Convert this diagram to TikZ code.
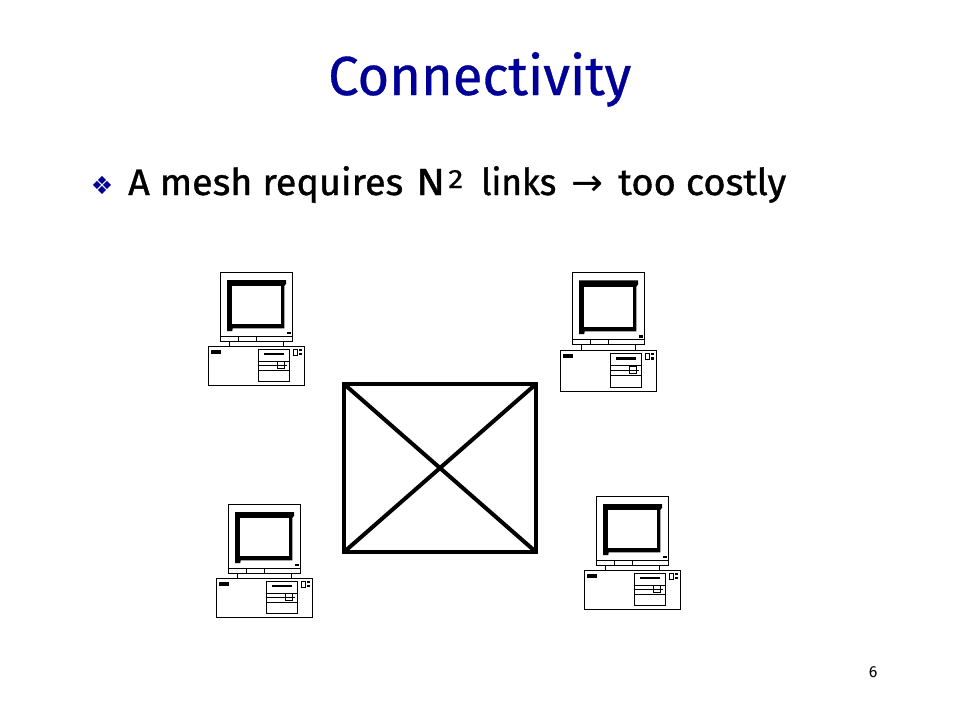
\documentclass[tikz,border=0pt]{standalone}
\usepackage{graphicx}
\usepackage{fontspec}
\setmainfont{Fira Sans}[Numbers=Lining]
\newfontfamily\dejavu{DejaVu Sans}
\newfontfamily\heavy[FakeBold=0.6,Numbers=Lining]{Fira Sans}
\newfontfamily\bodyheavy[FakeBold=1,Numbers=Lining]{Fira Sans}
\definecolor{titleblue}{RGB}{0,0,153}
\newcommand{\fitw}[2]{\resizebox{#1pt}{\height}{#2}}
\tikzset{
  x=1pt,y=-1pt,
  thinline/.style={draw=black,line width=1pt},
  link/.style={draw=black,line width=4pt},
  titletext/.style={text=titleblue,font=\heavy\fontsize{55}{60}\selectfont,inner sep=0pt,anchor=base west},
  bodytext/.style={text=black,font=\bodyheavy\fontsize{37}{42}\selectfont,inner sep=0pt,anchor=base west},
  pics/computer/.style={code={
    \draw[thinline,fill=white] (0,0) rectangle (72,64);
    \fill[black] (6.3,7.7) -- (65.3,7.7) -- (65.3,11.5) -- (63.6,13.7) -- (63.6,56) -- (12,56) -- (11.5,58.7) -- (6.3,58.7) -- cycle;
    \fill[white] (11.3,13.7) rectangle (60.5,51.7);
    \fill[black] (66,59.5) rectangle (70,62);
    \draw[thinline] (0,64) rectangle (72,69);
    \draw[thinline] (18,64) -- (18,69) (36,64) -- (36,69);
    \draw[thinline,fill=white] (9,69) rectangle (63,74);
    \draw[thinline,fill=white] (-12,74) rectangle (84,113);
    \fill[black] (-9.3,77.3) rectangle (0.7,81.3);
    \draw[thinline] (38,77) rectangle (69,109);
    \fill[black] (43,80.7) rectangle (63.7,83);
    \draw[thinline] (38,88.7) -- (69,88.7) (38,98) -- (69,98) (38,93) -- (66,93);
    \draw[thinline] (56.3,89) rectangle (64,96.3);
    \draw[line width=0.7pt] (72.3,77.3) rectangle (76.7,83);
    \fill[black] (78,77) rectangle (81.3,79);
    \fill[black] (78,80.3) rectangle (81.3,83);
  }}
}
\begin{document}
\begin{tikzpicture}
\useasboundingbox (0,0) rectangle (960,720);
\fill[white] (0,0) rectangle (960,720);
\node[titletext] (title) at (328,95) {\fitw{303}{Connectivity}};
\node[inner sep=0pt,font=\dejavu\fontsize{25}{25}\selectfont,text=titleblue] (bullet) at (102,185) {❖};
\node[bodytext] (body1) at (128,195) {\fitw{275}{A mesh requires}};
\node[bodytext] (body2) at (416,195) {\resizebox{29pt}{26pt}{N}};
\node[bodytext,font=\heavy\fontsize{26}{26}\selectfont] (body3) at (448,188) {\resizebox{15pt}{18pt}{2}};
\node[bodytext] (body4) at (481,195) {\fitw{75}{links}};
\node[bodytext,font=\dejavu\fontsize{37}{37}\selectfont] (arrow) at (571,195) {\fitw{32}{→}};
\node[bodytext] (body5) at (618,195) {\fitw{168}{too costly}};
\pic at (220.7,272.3) {computer};
\pic[yscale=1.053] at (572.7,272.3) {computer};
\pic at (228.7,504.3) {computer};
\pic at (596.7,496.3) {computer};
\coordinate (a) at (344,384);
\coordinate (b) at (536,384);
\coordinate (c) at (536,552);
\coordinate (d) at (344,552);
\draw[link] (a) -- (b) -- (c) -- (d) -- cycle;
\draw[link] (a) -- (c);
\draw[link] (b) -- (d);
\node[inner sep=0pt,font=\fontsize{16}{16}\selectfont,anchor=base] (num) at (873,677) {6};
\end{tikzpicture}
\end{document}
